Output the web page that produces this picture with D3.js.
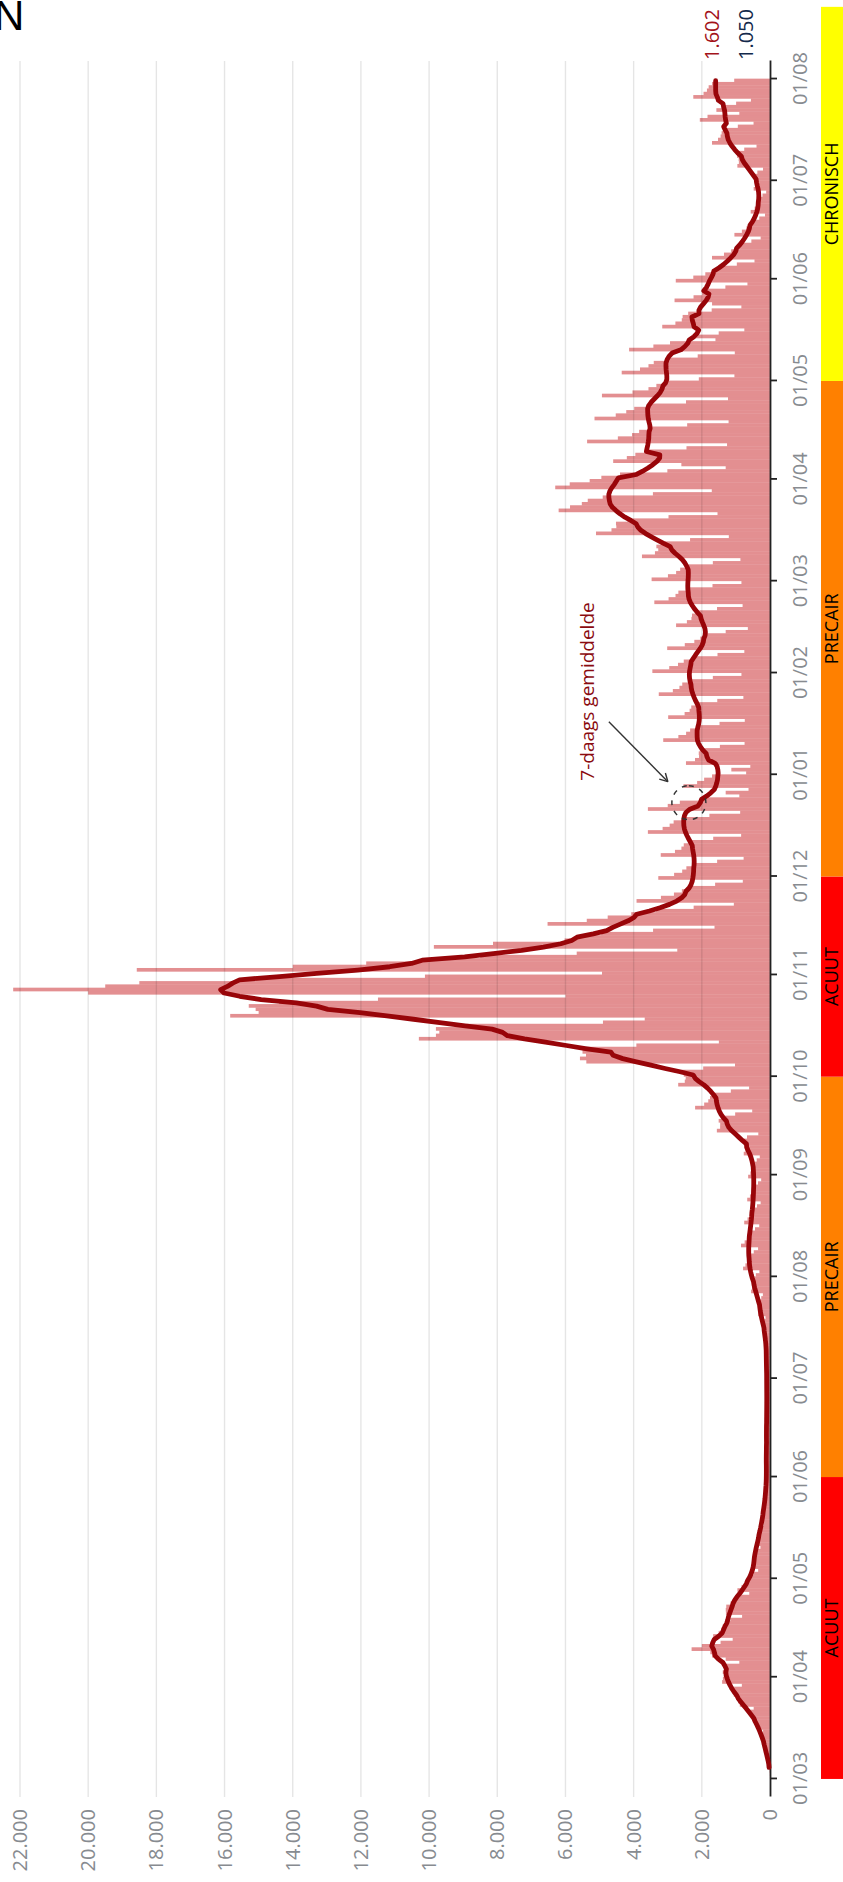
<!DOCTYPE html>
<html>
<head>
<meta charset="utf-8">
<script src="https://cdn.jsdelivr.net/npm/d3@7"></script>
<style>
  body { margin: 0; background: #fff; }
  svg { display: block; font-family: "Open Sans", sans-serif; }
</style>
</head>
<body>
<svg id="chart" width="843" height="1882"></svg>
<script>
const firstDay = '2020-03-01';

// new cases per day, one row per week (Sunday .. Saturday)
const dailyCases = [
  2, 6, 13, 22, 35, 55, 60,
  63, 138, 165, 179, 205, 215, 238,
  203, 380, 418, 441, 492, 540, 580,
  479, 886, 935, 975, 1061, 1085, 1074,
  826, 1405, 1381, 1355, 1386, 1340, 1297,
  900, 1300, 1700, 1750, 2300, 2000, 1450,
  1095, 1668, 1506, 1437, 1386, 1270, 1161,
  819, 1293, 1298, 1283, 1155, 1027, 912,
  609, 956, 836, 725, 668, 570, 484,
  347, 558, 526, 496, 492, 450, 409,
  280, 443, 396, 352, 328, 293, 261,
  181, 276, 248, 221, 205, 176, 157,
  109, 167, 152, 137, 128, 115, 103,
  69, 115, 116, 116, 118, 110, 103,
  74, 124, 117, 112, 108, 103, 97,
  55, 135, 120, 110, 105, 100, 75,
  52, 128, 114, 104, 100, 95, 71,
  54, 132, 118, 108, 103, 98, 74,
  60, 149, 132, 121, 115, 110, 82,
  72, 186, 176, 182, 194, 205, 169,
  132, 351, 336, 330, 336, 335, 257,
  209, 554, 528, 517, 525, 530, 416,
  312, 790, 720, 671, 651, 630, 477,
  350, 851, 744, 671, 630, 590, 440,
  316, 756, 658, 589, 551, 515, 382,
  275, 668, 588, 534, 504, 475, 352,
  259, 641, 576, 534, 513, 500, 390,
  300, 770, 720, 726, 767, 831, 675,
  343, 1559, 1463, 1461, 1506, 1420, 1022,
  522, 2197, 1931, 1811, 1760, 1625, 1149,
  613, 2693, 2500, 2473, 2530, 2590, 1960,
  1027, 5388, 5575, 5397, 5500, 5390, 3920,
  1500, 10300, 9800, 9700, 9800, 8900, 4900,
  3675, 15834, 15000, 15088, 15290, 14400, 11500,
  6000, 20000, 22200, 19500, 18500, 15090, 10122,
  4928, 18575, 14000, 11845, 10098, 8500, 5670,
  2720, 9860, 8125, 6026, 5610, 4950, 3430,
  1628, 6525, 5375, 4761, 4070, 3340, 2240,
  1061, 3915, 3200, 2818, 2585, 2320, 1610,
  798, 3277, 2813, 2576, 2453, 2220, 1551,
  774, 3205, 2788, 2599, 2530, 2340, 1666,
  847, 3582, 3150, 2944, 2827, 2560, 1778,
  875, 3582, 3000, 2645, 2000, 900, 1300,
  630, 2538, 2138, 1932, 1700, 700, 1134,
  578, 2465, 2200, 2082, 2090, 2060, 1470,
  746, 3132, 2688, 2461, 2343, 2120, 1481,
  740, 2987, 2505, 2358, 2310, 2150, 1547,
  781, 3263, 2850, 2657, 2574, 2370, 1677,
  838, 3451, 2956, 2699, 2530, 2250, 1540,
  753, 3016, 2500, 2220, 2043, 1857, 1300,
  650, 2755, 2438, 2305, 2288, 2150, 1554,
  804, 3393, 2975, 2772, 2688, 2430, 1687,
  838, 3473, 2994, 2754, 2635, 2395, 1677,
  868, 3756, 3375, 3278, 3333, 3200, 2345,
  1208, 5104, 4650, 4508, 4518, 4180, 2977,
  1540, 6200, 5866, 5520, 5346, 4907, 3435,
  1708, 6300, 5875, 5290, 4947, 4400, 3011,
  1300, 2600, 4600, 4200, 3950, 3560, 2450,
  1260, 5365, 4463, 4048, 3839, 3471, 2430,
  1215, 5148, 4525, 4217, 3982, 3560, 2464,
  1232, 4930, 4034, 3565, 3333, 2990, 2088,
  1044, 4350, 3813, 3565, 3410, 3060, 2121,
  1033, 4133, 3421, 2933, 1600, 2250, 1505,
  753, 3161, 2775, 2588, 2563, 2400, 1711,
  840, 1700, 2800, 2243, 1991, 1830, 1309,
  662, 2764, 2250, 1898, 1705, 1466, 973,
  455, 1701, 1350, 1139, 1001, 840, 547,
  274, 1044, 825, 690, 594, 489, 315,
  147, 566, 450, 391, 352, 313, 221,
  112, 479, 431, 428, 462, 480, 371,
  205, 957, 913, 920, 968, 980, 756,
  396, 1701, 1525, 1449, 1419, 1320, 944,
  483, 2059, 1833, 900, 1573, 1417, 994,
  560, 2250, 1950, 1850, 1800, 1700, 1050
];

const valueTicks = [0, 2000, 4000, 6000, 8000, 10000, 12000, 14000, 16000, 18000, 20000, 22000];

const phaseNames = ['ACUUT', 'PRECAIR', 'ACUUT', 'PRECAIR', 'CHRONISCH'];
const phaseStarts = ['2020-03-01', '2020-06-01', '2020-10-01', '2020-12-01', '2021-05-01'];
const phaseEnds = ['2020-06-01', '2020-10-01', '2020-12-01', '2021-05-01', '2021-08-23'];
const phaseColors = ['#ff0000', '#ff8000', '#ff0000', '#ff8000', '#ffff00'];

const lastAverage = 1602;
const lastDay = 1050;

const W = 1882, H = 843;
const parse = d3.utcParse('%Y-%m-%d');
const nl = d3.formatLocale({ decimal: ',', thousands: '.', grouping: [3], currency: ['€', ''] });
const fmt = nl.format(',d');

const day0 = parse(firstDay);
const days = dailyCases.map((_, i) => d3.utcDay.offset(day0, i));

const x = d3.scaleUtc()
  .domain([new Date(Date.UTC(2020, 1, 24, 12)), new Date(Date.UTC(2021, 7, 6, 12))])
  .range([85, W - 61]);
const y = d3.scaleLinear().domain([0, 22000]).range([770, 20]);

const svg = d3.select('#chart');

// the whole chart is drawn landscape and turned a quarter to the left
const g = svg.append('g').attr('transform', `translate(0,${W}) rotate(-90)`);

const phases = phaseNames.map((name, i) => ({
  name, color: phaseColors[i], start: parse(phaseStarts[i]), end: parse(phaseEnds[i])
}));

const band = g.append('g').attr('class', 'phases');
band.selectAll('rect')
  .data(phases)
  .enter()
  .append('rect')
  .attr('x', (d) => x(d.start))
  .attr('width', (d) => x(d.end) - x(d.start))
  .attr('y', 821)
  .attr('height', 22)
  .attr('fill', (d) => d.color);
band.selectAll('text')
  .data(phases)
  .enter()
  .append('text')
  .attr('x', (d) => (x(d.start) + x(d.end)) / 2)
  .attr('y', 832)
  .attr('dy', '0.36em')
  .attr('text-anchor', 'middle')
  .attr('font-size', 18)
  .attr('fill', '#000')
  .text((d) => d.name);

g.append('g')
  .attr('class', 'bars')
  .selectAll('rect')
  .data(dailyCases)
  .enter()
  .append('rect')
  .attr('x', (_, i) => x(days[i]))
  .attr('width', (_, i) => x(d3.utcDay.offset(days[i], 1)) - x(days[i]) + 0.4)
  .attr('y', (d) => y(d))
  .attr('height', (d) => y(0) - y(d))
  .attr('fill', '#e38f91');

g.append('g')
  .attr('class', 'grid')
  .selectAll('line')
  .data(valueTicks.filter((v) => v > 0))
  .enter()
  .append('line')
  .attr('x1', x.range()[0])
  .attr('x2', x.range()[1])
  .attr('y1', (d) => y(d))
  .attr('y2', (d) => y(d))
  .attr('stroke', '#000')
  .attr('stroke-opacity', 0.1)
  .attr('stroke-width', 1.4);

g.append('g')
  .attr('class', 'ylabels')
  .selectAll('text')
  .data(valueTicks)
  .enter()
  .append('text')
  .attr('x', 73)
  .attr('y', (d) => y(d))
  .attr('dy', '0.35em')
  .attr('text-anchor', 'end')
  .attr('font-size', 20)
  .attr('fill', '#878b90')
  .text((d) => fmt(d));

const xAxis = d3.axisBottom(x)
  .tickValues(d3.utcMonth.range(parse('2020-03-01'), parse('2021-08-02')))
  .tickFormat(d3.utcFormat('%d/%m'))
  .tickSize(7)
  .tickSizeOuter(0)
  .tickPadding(16);

const ax = g.append('g')
  .attr('transform', `translate(0,${y(0)})`)
  .call(xAxis);
ax.select('.domain').attr('stroke', '#222').attr('stroke-width', 1.8);
ax.selectAll('.tick line').attr('stroke', '#222').attr('stroke-width', 1.8);
ax.selectAll('.tick text')
  .attr('font-size', 20)
  .attr('font-family', '"Open Sans", sans-serif')
  .attr('fill', '#878b90');

// centred 7-day mean, window held inside the data at the last days
const avg = dailyCases.map((_, i) => {
  if (i < 3) return null;
  const lo = Math.min(i - 3, dailyCases.length - 7);
  return d3.mean(dailyCases.slice(lo, lo + 7));
});

const line = d3.line()
  .defined((d) => d != null)
  .x((_, i) => (x(days[i]) + x(d3.utcDay.offset(days[i], 1))) / 2)
  .y((d) => y(d));

g.append('path')
  .datum(avg)
  .attr('d', line)
  .attr('fill', 'none')
  .attr('stroke', '#980509')
  .attr('stroke-width', 4.8)
  .attr('stroke-linejoin', 'round')
  .attr('stroke-linecap', 'round');

// annotation
const ax0 = x(parse('2020-12-23')) + 1.6, ay0 = y(2380);
const note = g.append('g').attr('class', 'note');
note.append('circle')
  .attr('cx', ax0)
  .attr('cy', ay0)
  .attr('r', 17)
  .attr('fill', 'none')
  .attr('stroke', '#333')
  .attr('stroke-width', 1.5)
  .attr('stroke-dasharray', '5,6');
const sx = ax0 + 81, sy = ay0 - 80, ex = ax0 + 21, ey = ay0 - 21;
note.append('line')
  .attr('x1', sx).attr('y1', sy).attr('x2', ex).attr('y2', ey)
  .attr('stroke', '#333').attr('stroke-width', 1.4);
const ang = Math.atan2(ey - sy, ex - sx);
[-0.5, 0.5].forEach((a) => {
  note.append('line')
    .attr('x1', ex).attr('y1', ey)
    .attr('x2', ex - 9 * Math.cos(ang + a))
    .attr('y2', ey - 9 * Math.sin(ang + a))
    .attr('stroke', '#333').attr('stroke-width', 1.4);
});
note.append('text')
  .attr('x', ax0 + 22)
  .attr('y', ay0 - 95)
  .attr('font-size', 19)
  .attr('fill', '#8a0b10')
  .text('7-daags gemiddelde');

g.append('text')
  .attr('x', 1873)
  .attr('y', y(lastAverage) - 3)
  .attr('dy', '0.35em')
  .attr('text-anchor', 'end')
  .attr('font-size', 20)
  .attr('fill', '#a3131a')
  .text(fmt(lastAverage));
g.append('text')
  .attr('x', 1873)
  .attr('y', y(lastDay) + 12)
  .attr('dy', '0.35em')
  .attr('text-anchor', 'end')
  .attr('font-size', 20)
  .attr('fill', '#13294b')
  .text(fmt(lastDay));

// tail of the page title that falls inside the picture
svg.append('text')
  .attr('x', -6)
  .attr('y', 30)
  .attr('font-family', '"Liberation Sans", Arial, sans-serif')
  .attr('font-size', 42)
  .attr('fill', '#000')
  .text('N');
</script>
</body>
</html>
